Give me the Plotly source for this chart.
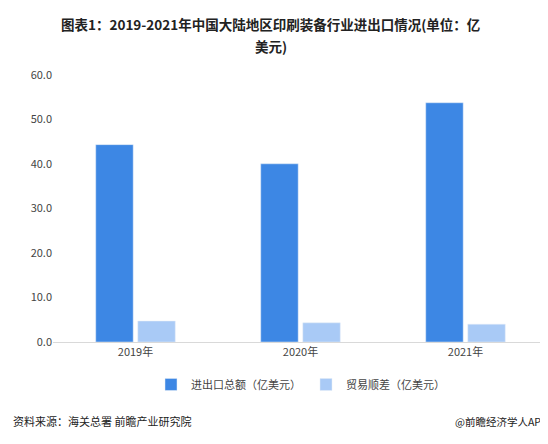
import plotly.graph_objects as go

years = ["2019年", "2020年", "2021年"]
total = [44.3, 40.0, 53.7]
surplus = [4.7, 4.3, 4.0]
ticks = [0, 10, 20, 30, 40, 50, 60]
tick_labels = ["0.0", "10.0", "20.0", "30.0", "40.0", "50.0", "60.0"]

font = "Noto Sans CJK SC"
fig = go.Figure()
fig.add_bar(x=years, y=total, name="进出口总额（亿美元）", marker_color="#3d87e4")
fig.add_bar(x=years, y=surplus, name="贸易顺差（亿美元）", marker_color="#a9caf6")
fig.update_layout(
    width=548, height=444, barmode="group", bargap=0.49, bargroupgap=0.11,
    paper_bgcolor="white", plot_bgcolor="white",
    font=dict(family=font, size=11, color="#333"),
    margin=dict(l=45, r=8, t=60, b=110),
    yaxis=dict(range=[0, 61.5], tickvals=ticks, ticktext=tick_labels, showgrid=False,
               zeroline=False, ticks="", tickfont=dict(size=11, color="#444")),
    xaxis=dict(showline=True, linecolor="#d9d9d9", ticks="", tickfont=dict(size=11, color="#444")),
    legend=dict(orientation="h", x=0.5, xanchor="center", y=-0.155, yanchor="middle",
                font=dict(size=11, color="#444"), traceorder="normal", itemwidth=30),
)
fig.add_annotation(text="<b>图表1：2019-2021年中国大陆地区印刷装备行业进出口情况(单位：亿</b>",
                   x=0.44, y=1.16, xref="paper", yref="paper", showarrow=False,
                   xanchor="center", yanchor="middle", font=dict(size=13.5, color="#222"))
fig.add_annotation(text="<b>美元)</b>",
                   x=0.44, y=1.08, xref="paper", yref="paper", showarrow=False,
                   xanchor="center", yanchor="middle", font=dict(size=13.5, color="#222"))
fig.add_annotation(text="资料来源：海关总署 前瞻产业研究院", x=-0.085, y=-0.29, xref="paper", yref="paper",
                   showarrow=False, xanchor="left", yanchor="middle", font=dict(size=11, color="#222"))
fig.add_annotation(text="@前瞻经济学人APP", x=1.005, y=-0.29, xref="paper", yref="paper",
                   showarrow=False, xanchor="right", yanchor="middle", font=dict(size=10.5, color="#222"))
fig.write_html("out.html")
